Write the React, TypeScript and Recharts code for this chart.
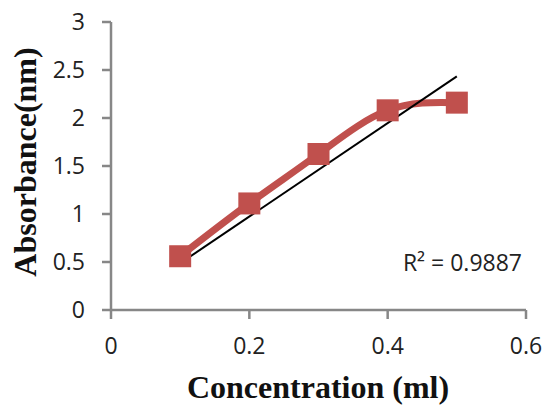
import React from "react";
import { LineChart, Line, XAxis, YAxis, Customized } from "recharts";

const concentrations = [0.1, 0.2, 0.3, 0.4, 0.5];
const absorbance = [0.56, 1.11, 1.625, 2.08, 2.16];
const xTicks = [0, 0.2, 0.4, 0.6];
const yTicks = [0, 0.5, 1, 1.5, 2, 2.5, 3];
const rSquaredLabel = "R² = 0.9887";
const xTitle = "Concentration (ml)";
const yTitle = "Absorbance(nm)";

// Linear trendline through origin (least squares), computed from the data
const sxy = concentrations.reduce((s, x, i) => s + x * absorbance[i], 0);
const sxx = concentrations.reduce((s, x) => s + x * x, 0);
const slope = sxy / sxx;

const data = concentrations.map((x, i) => ({
  x,
  abs: absorbance[i],
  trend: i === 0 || i === concentrations.length - 1 ? slope * x : null,
}));

const RED = "#c0504d";
const AXIS = "#878787";

const SquareDot = (props: any) => {
  const { cx, cy } = props;
  if (cx == null || cy == null) return null;
  const s = 22;
  return <rect x={cx - s / 2} y={cy - s / 2} width={s} height={s} fill={RED} />;
};

const Titles = () => (
  <g>
    <text
      x={318}
      y={398}
      textAnchor="middle"
      fontFamily="'Liberation Serif', 'Times New Roman', serif"
      fontWeight="bold"
      fontSize={32}
      fill="#111"
    >
      {xTitle}
    </text>
    <text
      x={0}
      y={0}
      transform="translate(36, 162) rotate(-90)"
      textAnchor="middle"
      fontFamily="'Liberation Serif', 'Times New Roman', serif"
      fontWeight="bold"
      fontSize={32}
      fill="#111"
    >
      {yTitle}
    </text>
    <text
      x={522}
      y={271}
      textAnchor="end"
      fontFamily="'Open Sans', sans-serif"
      fontSize={23}
      fill="#222"
    >
      {rSquaredLabel}
    </text>
  </g>
);

export default function App() {
  const tickStyle = { fontFamily: "'Open Sans', sans-serif", fontSize: 23, fill: "#222" };
  return (
    <div style={{ position: "absolute", left: 0, top: 0, width: 548, height: 409, background: "#fff" }}>
      <LineChart
        width={548}
        height={409}
        data={data}
        margin={{ top: 22, right: 22, bottom: 39, left: 51 }}
      >
        <XAxis
          dataKey="x"
          type="number"
          domain={[0, 0.6]}
          ticks={xTicks}
          tickSize={9}
          tickMargin={19}
          height={60}
          stroke={AXIS}
          strokeWidth={2.5}
          tick={tickStyle}
          tickLine={{ stroke: AXIS, strokeWidth: 2.5 }}
          axisLine={{ stroke: AXIS, strokeWidth: 2.5 }}
        />
        <YAxis
          type="number"
          domain={[0, 3]}
          ticks={yTicks}
          tickSize={9}
          tickMargin={17}
          width={60}
          stroke={AXIS}
          strokeWidth={2.5}
          tick={tickStyle}
          tickLine={{ stroke: AXIS, strokeWidth: 2.5 }}
          axisLine={{ stroke: AXIS, strokeWidth: 2.5 }}
        />
        <Line
          dataKey="abs"
          type="natural"
          stroke={RED}
          strokeWidth={7}
          dot={<SquareDot />}
          activeDot={false}
          isAnimationActive={false}
        />
        <Line
          dataKey="trend"
          type="linear"
          stroke="#000"
          strokeWidth={2}
          dot={false}
          activeDot={false}
          connectNulls
          isAnimationActive={false}
        />
        <Customized component={Titles} />
      </LineChart>
    </div>
  );
}
